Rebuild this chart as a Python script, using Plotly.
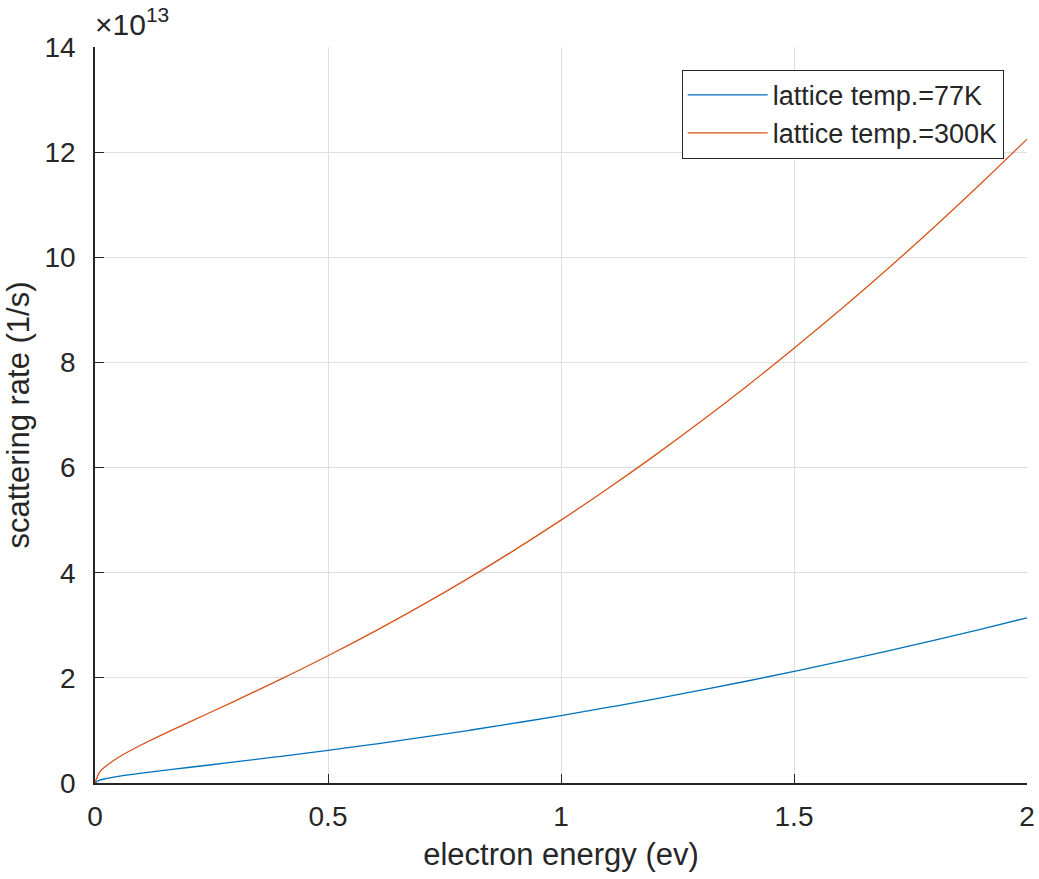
import plotly.graph_objects as go

# electron energy (eV)
energy = [0, 0.01, 0.02, 0.05, 0.1, 0.2, 0.3, 0.4, 0.5, 0.6, 0.7, 0.8, 0.9,
          1.0, 1.1, 1.2, 1.3, 1.4, 1.5, 1.6, 1.7, 1.8, 1.9, 2.0]
# scattering rate, in units of 1e13 1/s
rate_77K = [0, 0.053, 0.076, 0.124, 0.187, 0.295, 0.400, 0.508, 0.621, 0.740,
            0.866, 0.998, 1.137, 1.283, 1.437, 1.597, 1.765, 1.940, 2.123,
            2.312, 2.509, 2.713, 2.924, 3.143]
rate_300K = [0, 0.207, 0.296, 0.485, 0.727, 1.149, 1.559, 1.980, 2.420, 2.884,
             3.373, 3.888, 4.430, 5.000, 5.597, 6.222, 6.875, 7.557, 8.270,
             9.006, 9.773, 10.568, 11.393, 12.246]
series_names = ["lattice temp.=77K", "lattice temp.=300K"]
x_ticks = [0, 0.5, 1, 1.5, 2]
x_tick_text = ["0", "0.5", "1", "1.5", "2"]
y_ticks = [0, 2, 4, 6, 8, 10, 12, 14]

FONT = "Liberation Sans, Arial, sans-serif"
AX = "#262626"

fig = go.Figure()
fig.add_trace(go.Scatter(x=energy, y=rate_77K, mode="lines", name=series_names[0],
                         line=dict(color="#0072BD", width=1.3, shape="spline")))
fig.add_trace(go.Scatter(x=energy, y=rate_300K, mode="lines", name=series_names[1],
                         line=dict(color="#D95319", width=1.3, shape="spline")))

fig.update_layout(
    width=1039, height=879,
    margin=dict(l=95, r=12, t=47, b=96, autoexpand=False),
    paper_bgcolor="white", plot_bgcolor="white",
    font=dict(family=FONT, color=AX, size=28),
    showlegend=True,
    legend=dict(x=0.975, y=0.969, xanchor="right", yanchor="top",
                bgcolor="white", bordercolor=AX, borderwidth=1,
                font=dict(size=27, family=FONT, color=AX),
                itemwidth=80, tracegroupgap=0),
    xaxis=dict(range=[0, 2], tickvals=x_ticks, ticktext=x_tick_text,
               showgrid=True, gridcolor="#dfdfdf", gridwidth=1,
               showline=True, linecolor=AX, linewidth=1.5, mirror=False,
               ticks="inside", ticklen=9, tickcolor=AX, tickwidth=1,
               zeroline=False, ticklabelstandoff=8, automargin=False,
               tickfont=dict(size=28, family=FONT, color=AX),
               title=dict(text="electron energy (ev)", standoff=12,
                          font=dict(size=31, family=FONT, color=AX))),
    yaxis=dict(range=[0, 14], tickvals=y_ticks,
               showgrid=True, gridcolor="#dfdfdf", gridwidth=1,
               showline=True, linecolor=AX, linewidth=1.5, mirror=False,
               ticks="inside", ticklen=9, tickcolor=AX, tickwidth=1,
               zeroline=False, ticklabelstandoff=12, automargin=False,
               tickfont=dict(size=28, family=FONT, color=AX),
               title=dict(text="scattering rate (1/s)", standoff=6,
                          font=dict(size=31, family=FONT, color=AX))),
)

fig.add_annotation(xref="paper", yref="paper", x=0, y=1, xanchor="left", yanchor="bottom",
                   text="×10<sup>13</sup>", showarrow=False, xshift=-2, yshift=4,
                   font=dict(size=30, family=FONT, color=AX))

fig.write_html("out.html", config={"displayModeBar": False},
               post_script="document.body.style.margin='0';")
